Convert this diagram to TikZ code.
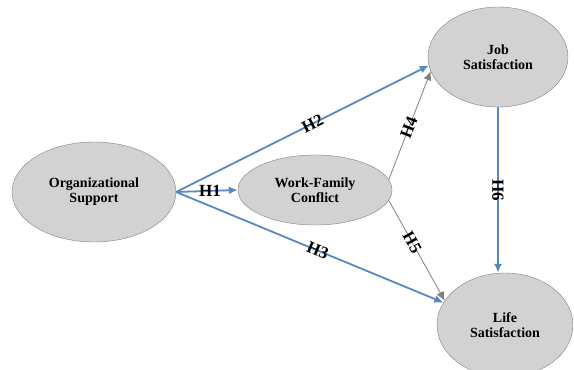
\documentclass[tikz,border=0pt]{standalone}
\usepackage{fontspec}
\setmainfont{Liberation Serif}
\usepackage{tikz}
\usetikzlibrary{arrows.meta}
\usetikzlibrary{shapes.geometric}
\definecolor{pathblue}{RGB}{88,136,192}
\definecolor{nodegray}{RGB}{210,210,210}
\tikzstyle{construct} = [ellipse, draw=gray, fill=nodegray, align=center,
    inner sep=0pt, font=\fontsize{14}{15}\selectfont\bfseries]
\tikzstyle{hpath} = [->, draw=pathblue, line width=1.8pt]
\tikzstyle{mpath} = [->, draw=gray, line width=0.8pt]
\tikzstyle{hlabel} = [inner sep=0pt, font=\fontsize{17}{17}\selectfont\bfseries]
\tikzset{>={Latex[length=9pt,width=8pt]}}

\begin{document}
\begin{tikzpicture}[x=1pt, y=-1pt]
    \useasboundingbox (0, 0) rectangle (574, 370);
    \clip (0, 0) rectangle (574, 370);
    %constructs
    \node[construct, minimum width=164pt, minimum height=100pt] (os) at (94, 192)
        {Organizational\\Support};
    \node[construct, minimum width=154pt, minimum height=70pt] (wfc) at (315, 190)
        {Work-Family\\Conflict};
    \node[construct, minimum width=140pt, minimum height=100pt] (js) at (498, 57)
        {Job\\Satisfaction};
    \node[construct, minimum width=136pt, minimum height=104pt] (ls) at (505, 325)
        {Life\\Satisfaction};
    %paths
    \draw[hpath] (os.east) -- node[hlabel, pos=0.55] {H1} (wfc.west);
    \draw[hpath] (os.east) -- node[hlabel, sloped, pos=0.54] {H2} (js.187);
    \draw[hpath] (os.east) -- node[hlabel, sloped, pos=0.53] {H3} (ls.160);
    \draw[mpath] (wfc.8) -- node[hlabel, sloped, pos=0.48] {H4} (js.192);
    \draw[mpath] (wfc.-8) -- node[hlabel, sloped, pos=0.42] {H5} (ls.158);
    \draw[hpath] (js.south) -- node[hlabel, rotate=-90] {H6} (js.south |- ls.north);
\end{tikzpicture}
\end{document}
